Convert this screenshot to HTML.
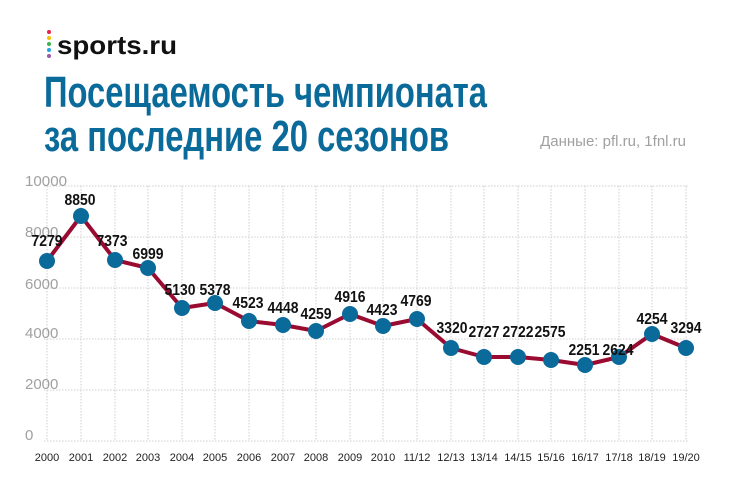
<!DOCTYPE html>
<html><head><meta charset="utf-8"><style>
body{margin:0;background:#fff;width:730px;height:492px;overflow:hidden;font-family:"Liberation Sans",sans-serif}
</style></head><body>
<svg width="730" height="492" xmlns="http://www.w3.org/2000/svg">
<g>
<circle cx="49" cy="32" r="2" fill="#e8204c"/><circle cx="49" cy="38" r="2" fill="#f5c400"/><circle cx="49" cy="44" r="2" fill="#3bb54a"/><circle cx="49" cy="50" r="2" fill="#1fa6e0"/><circle cx="49" cy="56" r="2" fill="#9a5aa8"/>
<text x="57" y="54" font-size="26" font-weight="bold" fill="#111" textLength="120" lengthAdjust="spacingAndGlyphs">sports.ru</text>
</g>
<text x="44" y="107" font-size="44" font-weight="bold" fill="#0a6a9a" textLength="443" lengthAdjust="spacingAndGlyphs">Посещаемость чемпионата</text>
<text x="44" y="151" font-size="44" font-weight="bold" fill="#0a6a9a" textLength="405" lengthAdjust="spacingAndGlyphs">за последние 20 сезонов</text>
<text x="686" y="146" font-size="15" fill="#a0a0a0" text-anchor="end">Данные: pfl.ru, 1fnl.ru</text>
<g stroke="#cfcfcf" stroke-dasharray="1.5,1.5" stroke-width="1">
<line x1="44" y1="186" x2="688" y2="186"/><line x1="44" y1="237" x2="688" y2="237"/><line x1="44" y1="288" x2="688" y2="288"/><line x1="44" y1="339" x2="688" y2="339"/><line x1="44" y1="390" x2="688" y2="390"/><line x1="44" y1="441" x2="688" y2="441"/>
<line x1="47" y1="186" x2="47" y2="441"/><line x1="81" y1="186" x2="81" y2="441"/><line x1="115" y1="186" x2="115" y2="441"/><line x1="148" y1="186" x2="148" y2="441"/><line x1="182" y1="186" x2="182" y2="441"/><line x1="215" y1="186" x2="215" y2="441"/><line x1="249" y1="186" x2="249" y2="441"/><line x1="283" y1="186" x2="283" y2="441"/><line x1="316" y1="186" x2="316" y2="441"/><line x1="350" y1="186" x2="350" y2="441"/><line x1="383" y1="186" x2="383" y2="441"/><line x1="417" y1="186" x2="417" y2="441"/><line x1="451" y1="186" x2="451" y2="441"/><line x1="484" y1="186" x2="484" y2="441"/><line x1="518" y1="186" x2="518" y2="441"/><line x1="551" y1="186" x2="551" y2="441"/><line x1="585" y1="186" x2="585" y2="441"/><line x1="619" y1="186" x2="619" y2="441"/><line x1="652" y1="186" x2="652" y2="441"/><line x1="686" y1="186" x2="686" y2="441"/>
</g>
<g font-size="15" fill="#a0a0a0">
<text x="25" y="186" textLength="42" lengthAdjust="spacingAndGlyphs">10000</text><text x="25" y="237">8000</text><text x="25" y="289">6000</text><text x="25" y="338">4000</text><text x="25" y="389">2000</text><text x="25" y="440">0</text>
</g>
<g font-size="11" fill="#222" text-anchor="middle">
<text x="47" y="461">2000</text><text x="81" y="461">2001</text><text x="115" y="461">2002</text><text x="148" y="461">2003</text><text x="182" y="461">2004</text><text x="215" y="461">2005</text><text x="249" y="461">2006</text><text x="283" y="461">2007</text><text x="316" y="461">2008</text><text x="350" y="461">2009</text><text x="383" y="461">2010</text><text x="417" y="461">11/12</text><text x="451" y="461">12/13</text><text x="484" y="461">13/14</text><text x="518" y="461">14/15</text><text x="551" y="461">15/16</text><text x="585" y="461">16/17</text><text x="619" y="461">17/18</text><text x="652" y="461">18/19</text><text x="686" y="461">19/20</text>
</g>
<polyline fill="none" stroke="#9a0b32" stroke-width="4" stroke-linejoin="round" points="47,261 81,216 115,260 148,268 182,308 215,303 249,321 283,325 316,331 350,314 383,326 417,319 451,348 484,357 518,357 551,360 585,365 619,357 652,334 686,348"/>
<g fill="#0a6a9a">
<circle cx="47" cy="261" r="8"/><circle cx="81" cy="216" r="8"/><circle cx="115" cy="260" r="8"/><circle cx="148" cy="268" r="8"/><circle cx="182" cy="308" r="8"/><circle cx="215" cy="303" r="8"/><circle cx="249" cy="321" r="8"/><circle cx="283" cy="325" r="8"/><circle cx="316" cy="331" r="8"/><circle cx="350" cy="314" r="8"/><circle cx="383" cy="326" r="8"/><circle cx="417" cy="319" r="8"/><circle cx="451" cy="348" r="8"/><circle cx="484" cy="357" r="8"/><circle cx="518" cy="357" r="8"/><circle cx="551" cy="360" r="8"/><circle cx="585" cy="365" r="8"/><circle cx="619" cy="357" r="8"/><circle cx="652" cy="334" r="8"/><circle cx="686" cy="348" r="8"/>
</g>
<g font-size="16" font-weight="bold" fill="#111" text-anchor="middle">
<text x="47" y="246" textLength="31" lengthAdjust="spacingAndGlyphs">7279</text><text x="80" y="205" textLength="31" lengthAdjust="spacingAndGlyphs">8850</text><text x="112" y="246" textLength="31" lengthAdjust="spacingAndGlyphs">7373</text><text x="148" y="259" textLength="31" lengthAdjust="spacingAndGlyphs">6999</text><text x="180" y="295" textLength="31" lengthAdjust="spacingAndGlyphs">5130</text><text x="215" y="295" textLength="31" lengthAdjust="spacingAndGlyphs">5378</text><text x="248" y="308" textLength="31" lengthAdjust="spacingAndGlyphs">4523</text><text x="283" y="313" textLength="31" lengthAdjust="spacingAndGlyphs">4448</text><text x="316" y="319" textLength="31" lengthAdjust="spacingAndGlyphs">4259</text><text x="350" y="302" textLength="31" lengthAdjust="spacingAndGlyphs">4916</text><text x="382" y="315" textLength="31" lengthAdjust="spacingAndGlyphs">4423</text><text x="416" y="306" textLength="31" lengthAdjust="spacingAndGlyphs">4769</text><text x="452" y="333" textLength="31" lengthAdjust="spacingAndGlyphs">3320</text><text x="484" y="337" textLength="31" lengthAdjust="spacingAndGlyphs">2727</text><text x="518" y="337" textLength="31" lengthAdjust="spacingAndGlyphs">2722</text><text x="550" y="337" textLength="31" lengthAdjust="spacingAndGlyphs">2575</text><text x="584" y="355" textLength="31" lengthAdjust="spacingAndGlyphs">2251</text><text x="618" y="355" textLength="31" lengthAdjust="spacingAndGlyphs">2624</text><text x="652" y="324" textLength="31" lengthAdjust="spacingAndGlyphs">4254</text><text x="686" y="333" textLength="31" lengthAdjust="spacingAndGlyphs">3294</text>
</g>
</svg>
</body></html>
